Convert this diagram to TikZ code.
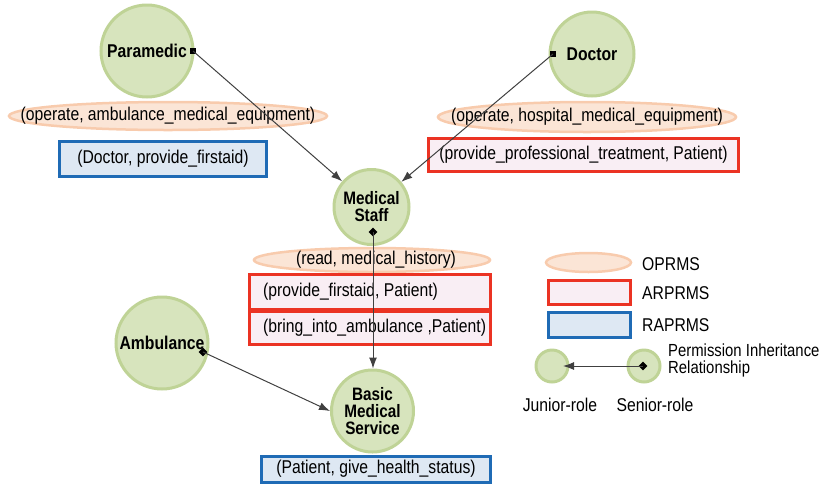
\documentclass[tikz,border=0pt]{standalone}
\usepackage{fontspec}
\setmainfont{Liberation Sans}[FakeStretch=0.85]
\usetikzlibrary{shapes.geometric,arrows.meta}
\definecolor{rolefill}{HTML}{D7E4BD}
\definecolor{roleline}{HTML}{BFD396}
\definecolor{opfill}{HTML}{FBE5D6}
\definecolor{opline}{HTML}{F8CBAD}
\definecolor{arfill}{HTML}{F9EEF4}
\definecolor{arline}{HTML}{EB3323}
\definecolor{rafill}{HTML}{DEE8F3}
\definecolor{raline}{HTML}{1F6BB5}
\definecolor{linkgray}{HTML}{404040}
\newcommand\lblfont{\fontsize{18.5}{17}\selectfont}
\newcommand\multifont{\fontsize{18}{17}\selectfont}
\begin{document}
\begin{tikzpicture}[x=1pt,y=-1pt,
  every node/.style={font=\lblfont},
  role/.style={circle, draw=roleline, fill=rolefill, line width=3pt, inner sep=0pt, align=center, font=\bfseries\lblfont},
  oprms/.style={ellipse, draw=opline, fill=opfill, line width=2.5pt, inner sep=0pt},
  arprms/.style={rectangle, draw=arline, fill=arfill, line width=3pt, inner sep=0pt},
  raprms/.style={rectangle, draw=raline, fill=rafill, line width=3pt, inner sep=0pt},
  link/.style={draw=linkgray, line width=1pt, -{Latex[length=11pt,width=8pt]}},
  sqmark/.style={rectangle, fill=black, minimum size=6pt, inner sep=0pt},
  dmmark/.style={diamond, fill=black, minimum size=9pt, inner sep=0pt},
  plain/.style={inner sep=0pt}]
\useasboundingbox (0,0) rectangle (829,488);
% roles
\node[role, minimum size=92pt] (para) at (147,51) {Paramedic};
\node[role, minimum size=84pt] (doc) at (592,54) {Doctor};
\node[role, minimum size=75pt, font=\bfseries\multifont] (ms) at (371.5,207) {Medical\\Staff};
\node[role, minimum size=92pt] (amb) at (162,343) {Ambulance};
\node[role, minimum size=82pt, font=\bfseries\multifont] (bms) at (372.5,411) {Basic\\Medical\\Service};
% permissions
\node[oprms, minimum width=318pt, minimum height=28pt] (e1) at (168,116) {};
\node[plain] (e1t) at (e1) {(operate, ambulance\_medical\_equipment)};
\node[raprms, minimum width=207pt, minimum height=35pt] (b1) at (163,159) {(Doctor, provide\_firstaid)};
\node[oprms, minimum width=298pt, minimum height=30pt] (e2) at (587,117) {};
\node[plain] (e2t) at (e2) {(operate, hospital\_medical\_equipment)};
\node[arprms, minimum width=310pt, minimum height=33pt] (r1) at (583.5,155) {(provide\_professional\_treatment, Patient)};
\node[oprms, minimum width=236pt, minimum height=24pt] (e3) at (372,260) {};
\node[plain] (e3t) at (376,260) {(read, medical\_history)};
\node[arprms, minimum width=241pt, minimum height=35pt] (r2) at (370,291.5) {};
\node[arprms, minimum width=241pt, minimum height=33pt] (r3) at (370,327.5) {};
\node[plain, anchor=west] (t2) at (263,291.5) {(provide\_firstaid, Patient)};
\node[plain, anchor=west] (t3) at (263,327.5) {(bring\_into\_ambulance ,Patient)};
\node[raprms, minimum width=229pt, minimum height=26pt] (b2) at (376,469) {(Patient, give\_health\_status)};
% legend
\node[oprms, minimum width=85pt, minimum height=19pt] (lo) at (588.5,262.5) {};
\node[arprms, minimum width=82pt, minimum height=24pt] (la) at (589.5,292) {};
\node[raprms, minimum width=82pt, minimum height=25pt] (lr) at (589.5,324.5) {};
\node[plain, anchor=west] (lot) at (642,264) {OPRMS};
\node[plain, anchor=west] (lat) at (642,293) {ARPRMS};
\node[plain, anchor=west] (lrt) at (642,325) {RAPRMS};
\node[role, minimum size=32pt] (jr) at (552,366) {};
\node[role, minimum size=32pt] (sr) at (644,366) {};
\coordinate (jt) at (563,366);
\node[plain] (jrt) at (560,405) {Junior-role};
\node[plain] (srt) at (655,405) {Senior-role};
\node[plain, anchor=north west, align=left, font=\fontsize{17.5}{17}\selectfont] (pir) at (668,344) {Permission Inheritance\\Relationship};
% markers
\node[sqmark] (pm) at (193,51) {};
\node[sqmark] (dm) at (553,54) {};
\node[dmmark] (msd) at (373,232) {};
\node[dmmark] (ambd) at (203,352) {};
\node[dmmark] (srd) at (643,366) {};
\coordinate (bmsw) at (bms.west);
% connectors
\draw[link] (pm.center) -- (ms);
\draw[link] (dm.center) -- (ms);
\draw[link] (msd.center) -- (msd.center |- bms.north);
\draw[link] (ambd.center) -- (bmsw);
\draw[link] (srd.center) -- (jt);
\end{tikzpicture}
\end{document}
